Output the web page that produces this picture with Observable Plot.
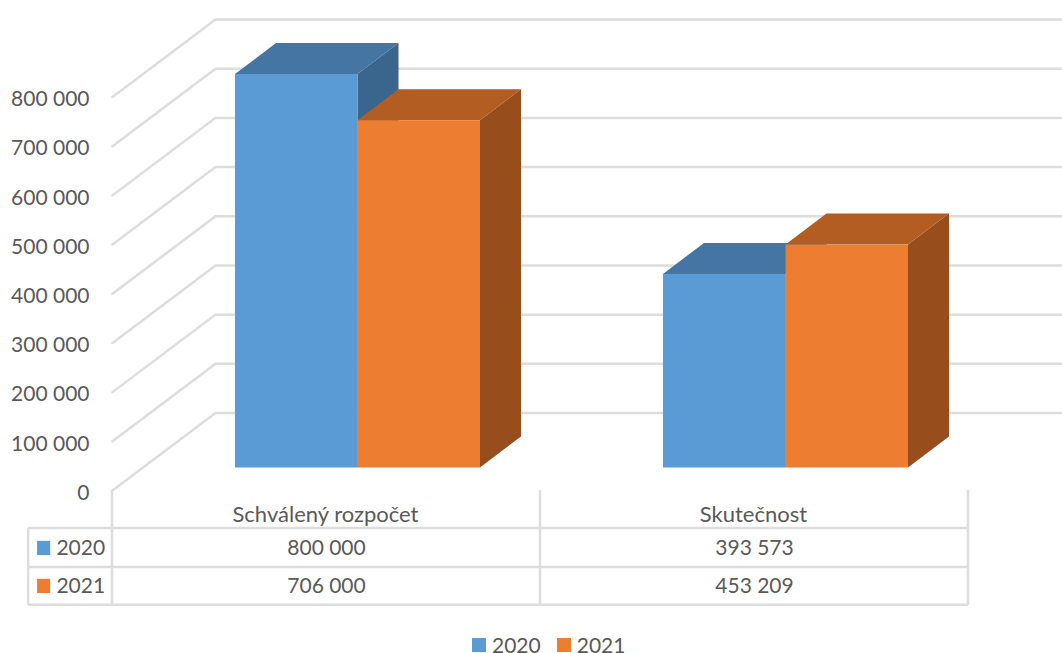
<!DOCTYPE html>
<html>
<head>
<meta charset="utf-8">
<script src="https://cdn.jsdelivr.net/npm/d3@7"></script>
<script src="https://cdn.jsdelivr.net/npm/@observablehq/plot@0.6"></script>
<style>
html,body{margin:0;padding:0;background:#fff;overflow:hidden}
svg{display:block}
#chart{width:1062px;height:653px;position:relative;font-family:Lato,sans-serif}
#legend{position:absolute;left:472px;top:632px;height:26px;white-space:nowrap;min-height:0 !important;margin:0 !important;line-height:16px}
#legend > span{margin-right:16px !important;line-height:16px;height:16px}
#legend svg{margin-right:6px !important}
</style>
</head>
<body>
<div id="chart"></div>
<script>
// Data
const categories = ["Schválený rozpočet", "Skutečnost"];
const series = ["2020", "2021"];
const values2020 = [800000, 393573];
const values2021 = [706000, 453209];
const yTicks = [0, 100000, 200000, 300000, 400000, 500000, 600000, 700000, 800000];

// Style
const frontColors = ["#5B9BD5", "#ED7D31"];
const topColors = ["#4575A2", "#B35D22"];
const sideColors = ["#3A658C", "#974E1C"];
const ink = "#595959";
const lineColor = "#DDDDDD";
const fontSize = 21;
const categoryFontSize = 22;

// Projection of the pseudo-3D box, expressed in data units
const wallDx = 0.2407, wallDy = 157560;
const wallEnd = 2.22;
const floorDx = 0.0724, floorDy = 45740;
const barDx = 0.0958, barDy = 63000;
const barStart = 0.2874, barWidth = 0.2862;

// Table layout in data units
const tableLeft = -0.196, tableRight = 2;
const rowLines = [-77160, -156350, -233500];
const headerY = -50700;
const rowY = [-117800, -195000];
const keyX1 = -0.175, keyX2 = -0.1445, keyTextX = -0.131;
const keyHalf = 14500;

const fmt = d3.formatLocale({decimal: ",", thousands: " ", grouping: [3], currency: ["", ""]}).format(",d");
const valuesBySeries = [values2020, values2021];

const wall = yTicks.flatMap(v => [
  {v, x: 0, y: v},
  {v, x: wallDx, y: v + wallDy},
  {v, x: wallEnd, y: v + wallDy}
]);

const boxes = series.flatMap((s, si) => categories.map((c, ci) => {
  const x0 = ci + barStart + si * barWidth;
  return {s, si, ci, x0, x1: x0 + barWidth, base: floorDy, top: floorDy + valuesBySeries[si][ci]};
}));
boxes.sort((a, b) => a.ci - b.ci || a.si - b.si);

const boxMarks = boxes.flatMap(b => [
  Plot.areaY(
    [{x: b.x1, y1: b.base, y2: b.top}, {x: b.x1 + barDx, y1: b.base + barDy, y2: b.top + barDy}],
    {x: "x", y1: "y1", y2: "y2", fill: sideColors[b.si]}
  ),
  Plot.areaX(
    [{y: b.top, x1: b.x0, x2: b.x1}, {y: b.top + barDy, x1: b.x0 + barDx, x2: b.x1 + barDx}],
    {y: "y", x1: "x1", x2: "x2", fill: topColors[b.si]}
  ),
  Plot.rect([b], {x1: "x0", x2: "x1", y1: "base", y2: "top", fill: "s"})
]);

const cells = series.flatMap((s, si) => categories.map((c, ci) => (
  {x: ci + 0.5, y: rowY[si], label: fmt(valuesBySeries[si][ci])}
)));
const keys = series.map((s, si) => ({s, y: rowY[si]}));
const lineW = 2.5;

const plot = Plot.plot({
  width: 1062,
  height: 632,
  marginLeft: 112,
  marginRight: 0,
  marginTop: 0,
  marginBottom: 0,
  style: {background: "transparent", fontFamily: "Lato, sans-serif", fontSize: fontSize + "px"},
  x: {domain: [0, 2], range: [112, 968], axis: null},
  y: {domain: [0, 800000], range: [490, 96.5], axis: null},
  color: {domain: series, range: frontColors},
  marks: [
    Plot.line(wall, {x: "x", y: "y", z: "v", stroke: lineColor, strokeWidth: lineW, curve: "linear"}),
    Plot.axisY({
      ticks: yTicks, tickSize: 0, tickPadding: 23, tickFormat: fmt, label: null,
      color: ink, fontSize, anchor: "left", dy: 2.5
    }),
    ...boxMarks,
    // Data table grid
    Plot.ruleY(rowLines, {x1: tableLeft, x2: tableRight, stroke: lineColor, strokeWidth: lineW, dy: -0.5}),
    Plot.ruleX([0, 1, 2], {y1: 0, y2: rowLines[2], stroke: lineColor, strokeWidth: lineW, dx: -0.5}),
    Plot.ruleX([tableLeft], {y1: rowLines[0], y2: rowLines[2], stroke: lineColor, strokeWidth: lineW, dx: -0.5}),
    // Data table text
    Plot.text(categories, {x: (d, i) => i + 0.5, y: headerY, text: d => d, fill: ink, fontSize: categoryFontSize, dx: -1}),
    Plot.text(cells, {x: "x", y: "y", text: "label", fill: ink, fontSize}),
    Plot.rect(keys, {x1: keyX1, x2: keyX2, y1: d => d.y - keyHalf, y2: d => d.y + keyHalf, fill: "s"}),
    Plot.text(keys, {x: keyTextX, y: "y", text: "s", textAnchor: "start", fill: ink, fontSize})
  ]
});
document.getElementById("chart").append(plot);

const legend = Plot.legend({
  color: {domain: series, range: frontColors},
  swatchSize: 14,
  style: {fontFamily: "Lato, sans-serif", fontSize: fontSize + "px", color: ink}
});
legend.id = "legend";
document.getElementById("chart").append(legend);
</script>
</body>
</html>
